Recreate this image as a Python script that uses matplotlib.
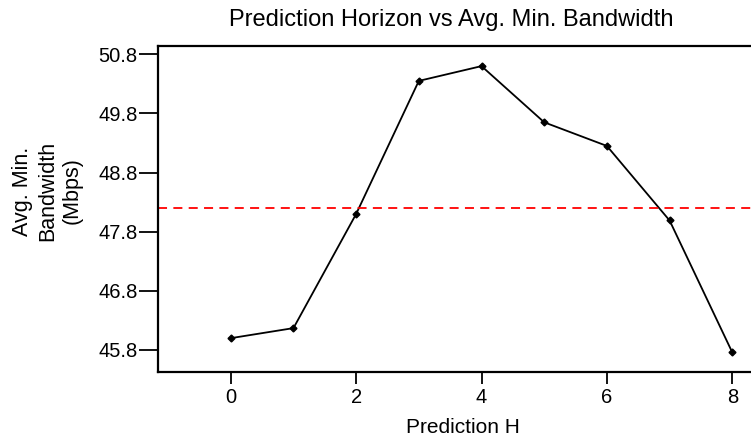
import matplotlib
matplotlib.use("Agg")
import matplotlib.pyplot as plt

plt.rcParams['font.family'] = ['Liberation Sans', 'DejaVu Sans']

horizon = [0, 1, 2, 3, 4, 5, 6, 7, 8]
avg_min_bw = [46.00, 46.17, 48.10, 50.35, 50.60, 49.65, 49.25, 47.99, 45.76]
baseline_bw = 48.2
y_ticks = [45.8, 46.8, 47.8, 48.8, 49.8, 50.8]
x_ticks = [0, 2, 4, 6, 8]

W, H = 751, 437
fig = plt.figure(figsize=(W / 100, H / 100), dpi=100)
left_px, right_px, top_px, bottom_px = 158.3, 768.0, 46.3, 371.7
ax = fig.add_axes([left_px / W, 1 - bottom_px / H,
                   (right_px - left_px) / W, (bottom_px - top_px) / H])

ax.plot(horizon, avg_min_bw, color='black', linewidth=1.3,
        marker='D', markersize=3.5, markerfacecolor='black', markeredgecolor='black')
ax.axhline(baseline_bw, color='red', linestyle=(0, (5, 3.5)), linewidth=1.3)

ax.set_xlim(-1.156, 8.57)
ax.set_ylim(45.433, 50.935)
ax.set_xticks(x_ticks)
ax.set_yticks(y_ticks)
ax.set_yticklabels([f"{v:.1f}" for v in y_ticks])

for side in ['left', 'bottom', 'top']:
    ax.spines[side].set_linewidth(1.6)
ax.spines['right'].set_visible(False)

ax.tick_params(axis='y', direction='out', length=13.5, width=1.3, labelsize=14.5, pad=1.5)
ax.tick_params(axis='x', direction='out', length=8.5, width=1.3, labelsize=14.5, pad=3)

ax.set_xlabel('Prediction H', fontsize=15, labelpad=8)
fig.text(47.5 / W, 1 - 191 / H, 'Avg. Min.\nBandwidth\n(Mbps)', rotation=90,
         ha='center', va='center', multialignment='center',
         fontsize=15.5, linespacing=1.25)
fig.text(451 / W, 1 - 25.7 / H, 'Prediction Horizon vs Avg. Min. Bandwidth',
         ha='center', va='baseline', fontsize=17)

fig.savefig('out.png', dpi=100)
